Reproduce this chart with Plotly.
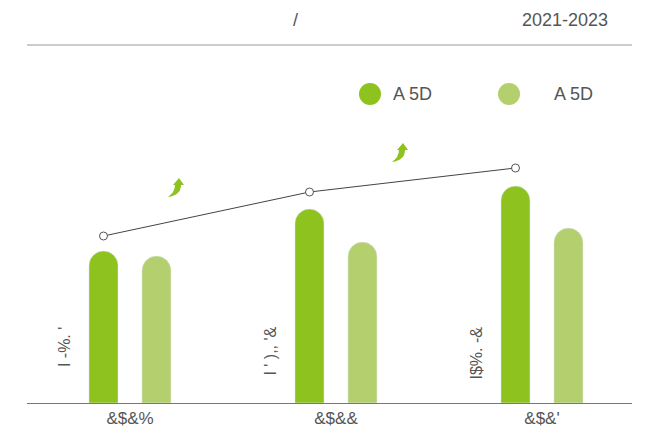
import plotly.graph_objects as go

# ---- data ----
categories = ["&$&%", "&$&&", "&$&'"]
series_names = ["A 5D", "A 5D"]
dark_values = [152, 194, 217]
light_values = [147, 161, 175]
line_values = [167, 211, 235]
bar_labels = ["I -%. '", "I ' ),, '&", "I$%. -&"]

W, H = 647, 436
S = 8  # page offset of the figure in the browser
L, R, T = 27 - S, W - (632 - S), 45 - S
B = H - (403 - S)
PW, PH = W - L - R, H - T - B

def px(x):
    return (x - S - L) / PW

def py(y):
    return (H - B - (y - S)) / PH

DARK = "#8DC21F"
LIGHT = "#B3CF6E"
TXT = "#555555"
FONT = "Liberation Sans, Arial, sans-serif"

xpos = list(range(len(categories)))
off = 0.1286
bw = 0.141

fig = go.Figure()
fig.add_trace(go.Bar(x=xpos, y=dark_values, name=series_names[0], width=bw, offset=-off - bw / 2,
                     marker=dict(color=DARK, cornerradius=15), showlegend=False))
fig.add_trace(go.Bar(x=xpos, y=light_values, name=series_names[1], width=bw, offset=off - bw / 2,
                     marker=dict(color=LIGHT, cornerradius=15), showlegend=False))
fig.add_trace(go.Scatter(x=[i - off for i in xpos], y=line_values, mode="lines+markers", yaxis="y2",
                         line=dict(color="#444444", width=1),
                         marker=dict(symbol="circle", size=8, color="white", line=dict(color="#555555", width=1)),
                         showlegend=False))

fig.update_layout(
    width=W, height=H,
    margin=dict(l=L, r=R, t=T, b=B),
    paper_bgcolor="white", plot_bgcolor="white",
    barmode="overlay",
    font=dict(family=FONT, color=TXT, size=14),
    xaxis=dict(range=[-0.5, 2.437], tickvals=xpos, ticktext=categories, showgrid=False, zeroline=False,
               showline=True, linecolor="#777777", linewidth=1, ticks="", tickfont=dict(size=17, color=TXT)),
    yaxis=dict(range=[0, PH], visible=False),
    yaxis2=dict(range=[0, PH], visible=False, overlaying="y"),
)

# top rule
fig.add_shape(type="line", xref="paper", yref="paper", x0=0, x1=1, y0=1, y1=1,
              line=dict(color="#999999", width=1.2))

# title parts
fig.add_annotation(text="/", xref="paper", yref="paper", x=px(295), y=py(20), showarrow=False,
                   font=dict(size=18, color=TXT), xanchor="center", yanchor="middle")
fig.add_annotation(text="2021-2023", xref="paper", yref="paper", x=px(610), y=py(20), showarrow=False,
                   font=dict(size=18, color=TXT), xanchor="right", yanchor="middle")

# legend (custom)
for cx, tx, col, name in [(370, 391, DARK, series_names[0]), (509, 552, LIGHT, series_names[1])]:
    fig.add_shape(type="circle", xref="paper", yref="paper", x0=px(cx - 11), x1=px(cx + 11),
                  y0=py(94 + 11), y1=py(94 - 11), fillcolor=col, line=dict(width=0))
    fig.add_annotation(text=name, xref="paper", yref="paper", x=px(tx), y=py(94), showarrow=False,
                       font=dict(size=18, color=TXT), xanchor="left", yanchor="middle")

# rotated value labels
for i, lab in enumerate(bar_labels):
    fig.add_annotation(text=lab, x=i - 0.32, y=78, xref="x", yref="y", showarrow=False, textangle=-90,
                       font=dict(size=16, color=TXT), xanchor="center", yanchor="top")

# growth arrows (curved, filled)
def arrow_path(cx, cy):
    pts = lambda x, y: f"{px(cx + x):.5f},{py(cy + y):.5f}"
    return (f"M {pts(3, -10)} L {pts(8, -3)} L {pts(5, -3)} "
            f"Q {pts(5, 7)} {pts(-8, 9)} "
            f"Q {pts(-1, 4)} {pts(-1, -3)} L {pts(-3, -3)} Z")

for ax_, ay_ in [(176, 188), (400, 153)]:
    fig.add_shape(type="path", xref="paper", yref="paper", path=arrow_path(ax_, ay_),
                  fillcolor=DARK, line=dict(width=0))

fig.write_html("out.html")
